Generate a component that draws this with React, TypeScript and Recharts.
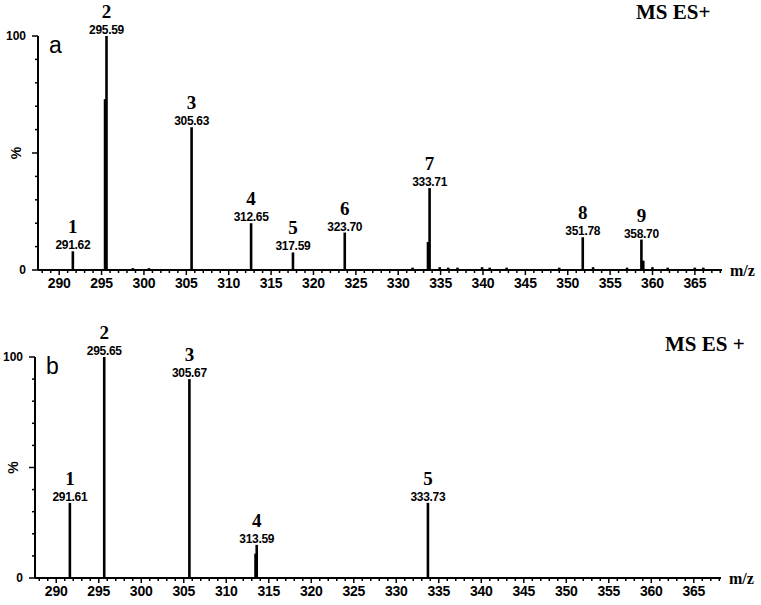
import * as React from "react";
import { ComposedChart, Bar, XAxis, YAxis, LabelList, Text } from "recharts";

// ─── Data ──────────────────────────────────────────────────────────────────

const PANEL_A_MZ = [291.62, 295.59, 305.63, 312.65, 317.59, 323.7, 333.71, 351.78, 358.7];
const PANEL_A_INTENSITY = [8, 100, 61, 20, 7.5, 16, 35, 14, 13];
const PANEL_A_PEAK_NO = ["1", "2", "3", "4", "5", "6", "7", "8", "9"];

// unlabeled shoulders and baseline noise in panel a
const PANEL_A_MINOR_MZ = [
	295.42, 333.52, 358.92, 298.7, 300.6, 331.7, 334.9, 335.9, 337, 339.9, 340.8,
	342.8, 349, 353, 357, 360, 361.8, 365, 366,
];
const PANEL_A_MINOR_INTENSITY = [
	73, 12, 4, 0.8, 0.8, 1, 1.2, 1, 1, 1.2, 1, 1, 1, 1.2, 1, 1.2, 1, 1, 1,
];

const PANEL_B_MZ = [291.61, 295.65, 305.67, 313.59, 333.73];
const PANEL_B_INTENSITY = [34, 100, 90, 15, 34];
const PANEL_B_PEAK_NO = ["1", "2", "3", "4", "5"];
const PANEL_B_MINOR_MZ = [313.45];
const PANEL_B_MINOR_INTENSITY = [11];

const MZ_DOMAIN: [number, number] = [287.5, 368.2];
const PCT_TICKS = [0, 10, 20, 30, 40, 50, 60, 70, 80, 90, 100];
const PCT_LABELS = [0, 100];
// minor ticks every 1 m/z, labelled every 5
const MZ_ALL_TICKS = Array.from({ length: 81 }, (_, i) => 288 + i);

const Y_AXIS_W = 30;
const X_AXIS_H = 25;
const STICK_W = 2.6;

// ─── Helpers ───────────────────────────────────────────────────────────────

interface PeakRow {
	mz: number;
	intensity: number;
	no?: string;
	mzText?: string;
}

function buildRows(
	mz: number[],
	intensity: number[],
	no: string[],
	minorMz: number[],
	minorIntensity: number[],
): PeakRow[] {
	const rows: PeakRow[] = mz.map((m, i) => ({
		mz: m,
		intensity: intensity[i],
		no: no[i],
		mzText: m.toFixed(2),
	}));
	minorMz.forEach((m, i) => rows.push({ mz: m, intensity: minorIntensity[i] }));
	return rows.sort((a, b) => a.mz - b.mz);
}

const SANS = "'Liberation Sans', Arial, sans-serif";
const SERIF = "'Liberation Serif', 'Times New Roman', serif";

// fixed-width stick, centred on the bar's band (band may be squeezed by close peaks)
function Stick(props: any) {
	const { x, y, width, height } = props;
	if (!height || height <= 0) return null;
	return <rect x={x + width / 2 - STICK_W / 2} y={y} width={STICK_W} height={height} fill="#000" />;
}

function MzTick(props: any) {
	const { x, y, payload } = props;
	const v = payload?.value as number;
	const major = v % 5 === 0;
	return (
		<g>
			<line x1={x} x2={x} y1={y} y2={y + (major ? 5 : 3)} stroke="#000" strokeWidth={1.5} />
			{major && (
				<text
					x={x}
					y={y + 18}
					textAnchor="middle"
					fontFamily={SANS}
					fontWeight="bold"
					fontSize={14}
					letterSpacing={-0.2}
					fill="#000"
				>
					{v}
				</text>
			)}
		</g>
	);
}

function PctTick(props: any) {
	const { x, y, payload } = props;
	const v = payload?.value as number;
	const major = v % 50 === 0;
	const labelled = PCT_LABELS.includes(v);
	return (
		<g>
			<line x1={x - (major ? 6 : 3)} x2={x} y1={y} y2={y} stroke="#000" strokeWidth={1.5} />
			{labelled && (
				<text
					x={x - 12}
					y={y + 4}
					textAnchor="end"
					fontFamily={SANS}
					fontWeight="bold"
					fontSize={12}
					fill="#000"
				>
					{v}
				</text>
			)}
		</g>
	);
}

function PeakNoLabel(props: any) {
	const { x, y, width, value } = props;
	if (value === undefined || value === null || value === "") return null;
	return (
		<text
			x={x + width / 2}
			y={y - 18}
			textAnchor="middle"
			fontFamily={SERIF}
			fontWeight="bold"
			fontSize={19}
			fill="#000"
		>
			{value}
		</text>
	);
}

function PeakMzLabel(props: any) {
	const { x, y, width, value } = props;
	if (value === undefined || value === null || value === "") return null;
	return (
		<text
			x={x + width / 2}
			y={y - 2}
			textAnchor="middle"
			fontFamily={SANS}
			fontWeight="bold"
			fontSize={12}
			letterSpacing={-0.3}
			fill="#000"
		>
			{value}
		</text>
	);
}

// ─── One spectrum panel ────────────────────────────────────────────────────

interface SpectrumProps {
	rows: PeakRow[];
	height: number;
	axisLeft: number;
	plotTop: number;
	plotBottom: number;
	plotRight: number;
	letter: string;
	title: string;
	titleX: number;
	titleY: number;
}

function Spectrum({ rows, height, axisLeft, plotTop, plotBottom, plotRight, letter, title, titleX, titleY }: SpectrumProps) {
	const margin = {
		top: plotTop,
		left: axisLeft - Y_AXIS_W,
		bottom: height - plotBottom - X_AXIS_H,
		right: 761 - plotRight,
	};
	const plotMid = (plotTop + plotBottom) / 2;
	return (
		<ComposedChart width={761} height={height} data={rows} margin={margin}>
			<XAxis
				dataKey="mz"
				type="number"
				domain={MZ_DOMAIN}
				ticks={MZ_ALL_TICKS}
				interval={0}
				height={X_AXIS_H}
				tickSize={0}
				tickMargin={0}
				tickLine={false}
				tick={<MzTick />}
				axisLine={{ stroke: "#000", strokeWidth: 2 }}
				allowDataOverflow
			/>
			<YAxis
				type="number"
				domain={[0, 100]}
				ticks={PCT_TICKS}
				interval={0}
				width={Y_AXIS_W}
				tickSize={0}
				tickMargin={0}
				tickLine={false}
				tick={<PctTick />}
				axisLine={{ stroke: "#000", strokeWidth: 2 }}
			/>
			<Bar dataKey="intensity" barSize={2} fill="#000" shape={<Stick />} isAnimationActive={false}>
				<LabelList dataKey="no" content={<PeakNoLabel />} />
				<LabelList dataKey="mzText" content={<PeakMzLabel />} />
			</Bar>
			<Text
				x={axisLeft + 11}
				y={plotTop + 9}
				verticalAnchor="middle"
				fontFamily={SANS}
				fontSize={23}
				fill="#000"
			>
				{letter}
			</Text>
			<Text
				x={titleX}
				y={titleY}
				verticalAnchor="middle"
				fontFamily={SERIF}
				fontWeight="bold"
				fontSize={21}
				fill="#000"
			>
				{title}
			</Text>
			<Text
				x={axisLeft - 22}
				y={plotMid}
				angle={-90}
				textAnchor="middle"
				verticalAnchor="middle"
				fontFamily={SANS}
				fontWeight="bold"
				fontSize={14}
				fill="#000"
			>
				%
			</Text>
			<Text
				x={plotRight + 8}
				y={plotBottom}
				verticalAnchor="middle"
				fontFamily={SERIF}
				fontWeight="bold"
				fontSize={16}
				fill="#000"
			>
				m/z
			</Text>
		</ComposedChart>
	);
}

// ─── App ───────────────────────────────────────────────────────────────────

export default function App() {
	const rowsA = React.useMemo(
		() => buildRows(PANEL_A_MZ, PANEL_A_INTENSITY, PANEL_A_PEAK_NO, PANEL_A_MINOR_MZ, PANEL_A_MINOR_INTENSITY),
		[],
	);
	const rowsB = React.useMemo(
		() => buildRows(PANEL_B_MZ, PANEL_B_INTENSITY, PANEL_B_PEAK_NO, PANEL_B_MINOR_MZ, PANEL_B_MINOR_INTENSITY),
		[],
	);
	return (
		<div style={{ position: "absolute", left: 0, top: 0, width: 761, height: 605, background: "#fff" }}>
			<Spectrum
				rows={rowsA}
				height={300}
				axisLeft={38}
				plotTop={36}
				plotBottom={270}
				plotRight={722}
				letter="a"
				title="MS ES+"
				titleX={636}
				titleY={12}
			/>
			<Spectrum
				rows={rowsB}
				height={305}
				axisLeft={35}
				plotTop={57}
				plotBottom={278}
				plotRight={721}
				letter="b"
				title="MS ES +"
				titleX={665}
				titleY={44}
			/>
		</div>
	);
}
